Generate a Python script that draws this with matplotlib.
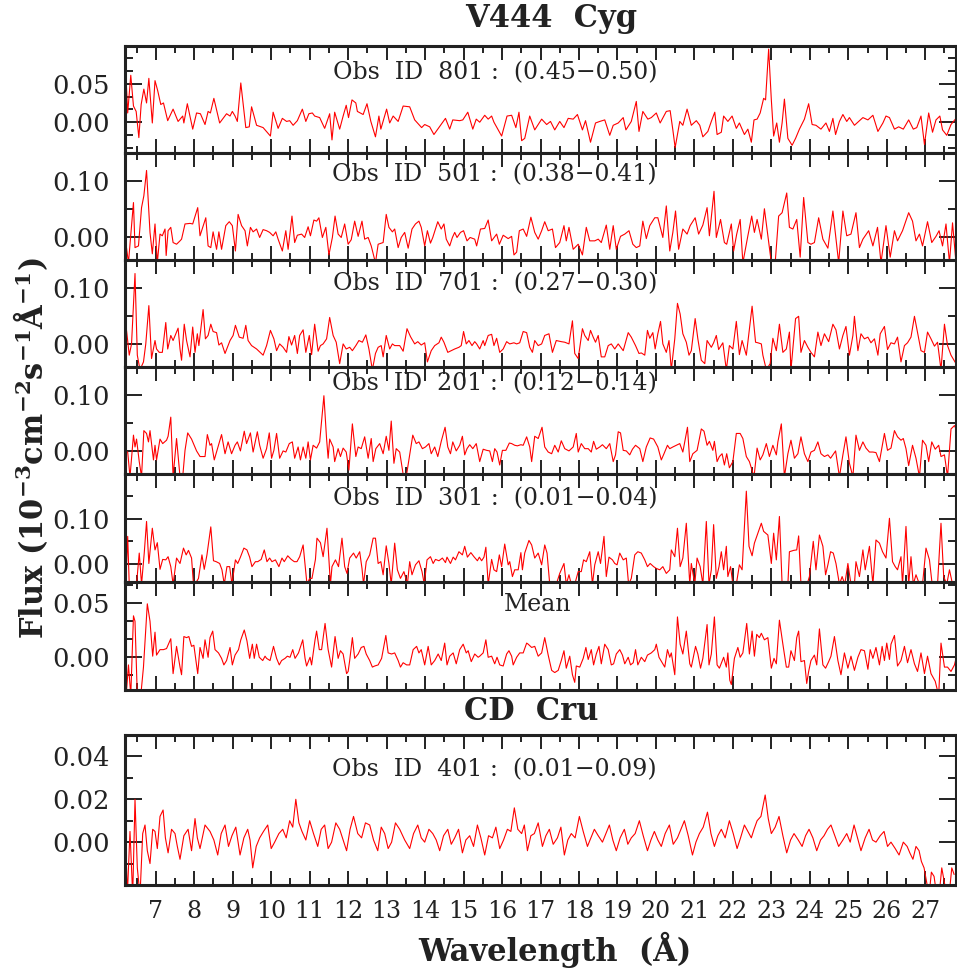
import matplotlib
matplotlib.use("Agg")
import matplotlib.pyplot as plt
from matplotlib.ticker import MultipleLocator, FixedLocator

plt.rcParams['font.family'] = ['DejaVu Serif']
plt.rcParams['mathtext.fontset'] = 'dejavuserif'
plt.rcParams['mathtext.default'] = 'bf'

# (wavelength, flux)
obs801 = [(6.20, 0.087), (6.27, 0.012), (6.35, 0.061), (6.42, 0.021), (6.49, 0.014), (6.56, -0.020),
          (6.62, 0.023), (6.69, 0.043), (6.76, 0.025), (6.82, 0.057), (6.91, -0.001), (6.98, 0.054),
          (7.05, 0.041), (7.13, 0.023), (7.20, 0.025), (7.31, 0.002), (7.45, 0.017), (7.58, 0.001),
          (7.70, 0.008), (7.73, -0.001), (7.82, 0.024), (7.96, -0.009), (8.06, 0.012), (8.16, 0.011),
          (8.28, -0.003), (8.36, 0.014), (8.42, 0.012), (8.51, 0.031), (8.66, -0.001), (8.84, 0.011),
          (8.93, 0.008), (8.99, 0.014), (9.06, 0.008), (9.12, 0.001), (9.21, 0.051), (9.34, -0.007),
          (9.43, -0.006), (9.49, 0.020), (9.62, -0.004), (9.79, -0.007), (9.98, -0.018), (10.05, 0.013),
          (10.18, -0.008), (10.29, 0.005), (10.40, 0.001), (10.48, 0.002), (10.57, -0.004), (10.68, 0.002),
          (10.81, 0.017), (10.90, 0.001), (10.98, 0.011), (11.07, 0.012), (11.13, 0.008), (11.26, 0.006),
          (11.39, -0.008), (11.52, 0.011), (11.58, -0.023), (11.65, 0.013), (11.78, -0.009), (11.87, 0.008),
          (11.95, 0.022), (12.01, 0.006), (12.10, 0.029), (12.20, 0.025), (12.24, 0.014), (12.39, 0.010),
          (12.49, 0.024), (12.59, 0.001), (12.71, -0.019), (12.80, 0.008), (12.85, -0.009), (13.00, 0.017),
          (13.08, -0.001), (13.17, 0.008), (13.30, 0.001), (13.43, 0.021), (13.60, 0.020), (13.73, 0.003),
          (13.91, -0.007), (13.99, -0.003), (14.12, -0.006), (14.23, -0.016), (14.36, -0.007), (14.53, 0.005),
          (14.64, -0.009), (14.72, 0.003), (14.90, 0.002), (14.98, 0.003), (15.11, 0.013), (15.24, -0.009),
          (15.33, 0.004), (15.42, 0.000), (15.55, 0.009), (15.64, 0.004), (15.73, 0.008), (15.79, 0.000),
          (15.99, -0.018), (16.13, 0.008), (16.25, 0.009), (16.36, -0.007), (16.44, 0.013), (16.51, -0.024),
          (16.59, -0.021), (16.72, 0.008), (16.85, -0.010), (17.03, 0.004), (17.16, -0.003), (17.26, 0.001),
          (17.37, -0.010), (17.50, 0.001), (17.61, -0.007), (17.72, 0.005), (17.85, 0.004), (17.96, 0.010),
          (18.09, -0.010), (18.17, 0.002), (18.30, -0.026), (18.43, -0.001), (18.54, 0.001), (18.67, 0.003),
          (18.80, -0.017), (18.89, -0.004), (19.02, -0.001), (19.15, 0.006), (19.22, -0.010), (19.36, 0.001),
          (19.49, 0.027), (19.56, -0.012), (19.66, 0.014), (19.79, 0.004), (19.88, 0.006), (20.01, 0.012),
          (20.11, -0.001), (20.27, 0.014), (20.37, 0.015), (20.44, -0.010), (20.50, -0.033), (20.62, 0.001),
          (20.70, -0.004), (20.81, 0.017), (20.92, -0.004), (21.05, 0.002), (21.14, -0.004), (21.22, -0.019),
          (21.35, -0.012), (21.44, 0.001), (21.53, 0.013), (21.59, -0.016), (21.70, -0.013), (21.76, 0.008),
          (21.87, 0.001), (21.98, 0.008), (22.09, -0.008), (22.17, -0.001), (22.30, -0.016), (22.39, -0.009),
          (22.48, -0.026), (22.55, 0.003), (22.63, 0.004), (22.71, 0.012), (22.80, 0.031), (22.85, 0.029),
          (22.93, 0.095), (23.00, 0.029), (23.06, -0.018), (23.14, -0.001), (23.21, -0.026), (23.28, -0.001),
          (23.34, 0.030), (23.43, -0.021), (23.54, -0.030), (23.63, -0.021), (23.73, -0.009), (23.86, 0.004),
          (23.97, 0.024), (24.06, -0.003), (24.16, -0.004), (24.29, -0.009), (24.42, -0.001), (24.51, -0.012),
          (24.60, 0.005), (24.67, -0.016), (24.77, 0.001), (24.86, 0.010), (24.96, 0.001), (25.03, 0.006),
          (25.16, -0.004), (25.27, 0.001), (25.38, 0.006), (25.51, 0.003), (25.64, 0.009), (25.77, -0.012),
          (25.90, -0.001), (25.98, 0.008), (26.07, 0.006), (26.20, -0.009), (26.31, -0.006), (26.43, -0.009),
          (26.57, 0.003), (26.69, -0.009), (26.78, -0.007), (26.89, 0.008), (26.98, -0.029), (27.09, 0.012),
          (27.19, -0.013), (27.28, 0.003), (27.38, 0.008), (27.45, -0.010), (27.56, -0.017), (27.67, -0.003),
          (27.80, 0.005)]

obs501 = [(6.20, 0.002), (6.29, -0.045), (6.42, 0.062), (6.46, -0.018), (6.55, -0.015), (6.63, 0.053),
          (6.69, 0.074), (6.76, 0.119), (6.85, 0.009), (6.91, -0.029), (6.98, 0.024), (7.04, -0.045),
          (7.11, 0.006), (7.17, 0.003), (7.24, 0.015), (7.27, -0.032), (7.32, 0.012), (7.39, 0.018),
          (7.45, -0.009), (7.54, -0.012), (7.63, -0.006), (7.67, -0.003), (7.76, 0.024), (7.89, 0.025),
          (7.96, 0.024), (8.09, 0.053), (8.15, 0.003), (8.30, 0.035), (8.36, -0.015), (8.43, -0.018),
          (8.49, 0.010), (8.58, -0.021), (8.64, 0.010), (8.71, -0.021), (8.82, 0.021), (8.91, 0.028),
          (8.99, 0.021), (9.07, -0.024), (9.14, 0.041), (9.23, 0.021), (9.32, 0.012), (9.38, -0.015),
          (9.46, 0.018), (9.53, 0.010), (9.62, 0.015), (9.70, 0.000), (9.79, 0.014), (9.88, 0.012),
          (9.96, 0.009), (10.05, 0.003), (10.12, 0.010), (10.18, -0.003), (10.29, -0.024), (10.38, 0.012),
          (10.44, -0.021), (10.54, 0.038), (10.61, -0.009), (10.68, 0.004), (10.79, 0.006), (10.87, 0.000),
          (10.96, 0.019), (11.02, 0.003), (11.11, 0.031), (11.18, 0.029), (11.24, 0.035), (11.33, 0.000),
          (11.42, 0.018), (11.50, -0.031), (11.59, 0.000), (11.66, 0.038), (11.74, 0.006), (11.82, 0.000),
          (11.91, 0.024), (12.00, -0.012), (12.08, -0.004), (12.17, 0.029), (12.26, 0.002), (12.36, 0.029),
          (12.43, -0.003), (12.52, 0.000), (12.60, -0.015), (12.71, -0.045), (12.78, -0.012), (12.91, -0.009),
          (12.99, 0.041), (13.06, 0.018), (13.15, 0.010), (13.21, 0.015), (13.30, -0.018), (13.38, 0.000),
          (13.47, 0.009), (13.56, -0.019), (13.66, 0.015), (13.75, 0.024), (13.84, 0.029), (13.90, 0.018),
          (13.99, -0.015), (14.06, 0.012), (14.14, -0.010), (14.20, 0.000), (14.33, 0.028), (14.42, 0.015),
          (14.49, 0.024), (14.55, -0.003), (14.64, -0.015), (14.71, 0.000), (14.77, 0.009), (14.83, 0.000),
          (14.92, 0.009), (15.00, 0.012), (15.09, -0.006), (15.17, 0.000), (15.29, -0.003), (15.34, -0.015),
          (15.44, 0.015), (15.55, 0.016), (15.64, 0.031), (15.73, -0.006), (15.86, 0.006), (15.93, -0.012),
          (16.03, 0.004), (16.16, -0.002), (16.25, 0.002), (16.31, -0.031), (16.38, -0.026), (16.45, 0.012),
          (16.55, 0.015), (16.64, 0.002), (16.75, 0.036), (16.85, 0.009), (16.94, -0.003), (17.03, 0.012),
          (17.11, 0.028), (17.20, 0.012), (17.31, 0.015), (17.39, -0.018), (17.50, -0.009), (17.61, 0.021),
          (17.67, -0.006), (17.74, 0.018), (17.85, -0.021), (17.98, -0.012), (18.09, -0.031), (18.19, 0.018),
          (18.28, -0.006), (18.41, -0.006), (18.50, -0.003), (18.58, -0.009), (18.71, 0.022), (18.80, -0.021),
          (18.89, 0.021), (18.97, -0.021), (19.08, 0.002), (19.19, 0.006), (19.30, 0.012), (19.40, -0.012),
          (19.49, -0.018), (19.58, -0.015), (19.66, 0.029), (19.75, -0.002), (19.84, 0.021), (19.97, 0.035),
          (20.05, 0.035), (20.18, 0.000), (20.27, 0.056), (20.36, -0.024), (20.44, 0.009), (20.51, 0.047),
          (20.59, -0.021), (20.70, 0.015), (20.81, 0.006), (20.89, 0.021), (21.02, 0.035), (21.11, 0.006),
          (21.22, 0.022), (21.33, 0.053), (21.39, 0.003), (21.51, 0.082), (21.57, 0.000), (21.68, 0.032),
          (21.78, -0.009), (21.84, -0.012), (21.96, 0.024), (22.02, -0.024), (22.10, 0.006), (22.19, 0.032),
          (22.26, -0.045), (22.39, 0.003), (22.49, 0.038), (22.56, 0.009), (22.63, 0.032), (22.74, -0.003),
          (22.82, 0.051), (22.91, 0.003), (23.00, -0.045), (23.10, -0.045), (23.19, 0.038), (23.28, 0.044),
          (23.40, 0.079), (23.47, 0.018), (23.56, 0.015), (23.66, 0.032), (23.75, -0.035), (23.84, 0.071),
          (23.95, -0.009), (24.03, -0.012), (24.12, -0.009), (24.23, 0.035), (24.34, -0.003), (24.47, -0.019),
          (24.60, 0.047), (24.75, -0.045), (24.86, 0.047), (24.96, 0.003), (25.07, 0.006), (25.20, 0.044),
          (25.29, -0.018), (25.38, -0.003), (25.53, 0.012), (25.64, -0.015), (25.76, 0.018), (25.85, -0.045),
          (25.98, 0.021), (26.09, -0.035), (26.20, 0.012), (26.28, -0.006), (26.41, 0.012), (26.57, 0.044),
          (26.67, 0.029), (26.76, -0.006), (26.85, 0.006), (26.93, -0.015), (27.06, 0.028), (27.17, -0.009),
          (27.28, 0.002), (27.36, 0.012), (27.45, -0.015), (27.54, 0.024), (27.63, -0.045), (27.71, 0.026),
          (27.80, -0.045)]

obs701 = [(6.20, -0.045), (6.24, 0.025), (6.31, -0.019), (6.37, 0.001), (6.46, 0.126), (6.52, -0.019),
          (6.59, -0.045), (6.68, -0.031), (6.74, 0.001), (6.82, 0.069), (6.89, -0.025), (6.98, 0.007),
          (7.02, -0.008), (7.09, -0.014), (7.17, -0.014), (7.26, 0.039), (7.31, -0.008), (7.39, 0.016),
          (7.45, 0.007), (7.52, 0.019), (7.58, 0.029), (7.63, -0.008), (7.67, -0.028), (7.74, 0.036),
          (7.80, 0.007), (7.89, -0.022), (7.96, 0.031), (8.02, -0.014), (8.08, 0.019), (8.12, -0.002),
          (8.23, 0.062), (8.29, 0.010), (8.36, 0.016), (8.43, 0.036), (8.49, 0.023), (8.58, 0.021),
          (8.64, -0.001), (8.71, 0.003), (8.80, -0.016), (8.93, 0.007), (9.01, 0.016), (9.07, 0.034),
          (9.17, 0.013), (9.27, 0.011), (9.34, 0.034), (9.40, 0.007), (9.49, -0.002), (9.62, -0.008),
          (9.79, -0.019), (9.88, -0.002), (9.98, 0.025), (10.07, 0.010), (10.14, -0.011), (10.22, 0.001),
          (10.31, -0.005), (10.40, -0.014), (10.46, 0.014), (10.53, -0.001), (10.61, 0.016), (10.68, -0.016),
          (10.74, 0.016), (10.83, 0.026), (10.90, -0.014), (10.99, 0.016), (11.05, -0.018), (11.13, 0.036),
          (11.22, -0.012), (11.28, -0.002), (11.35, 0.001), (11.44, 0.010), (11.52, 0.048), (11.61, 0.016),
          (11.69, 0.004), (11.78, -0.034), (11.87, 0.001), (11.95, -0.008), (12.04, -0.005), (12.11, -0.011),
          (12.20, -0.002), (12.28, 0.007), (12.37, 0.004), (12.46, 0.017), (12.54, -0.008), (12.63, -0.045),
          (12.71, -0.016), (12.78, -0.005), (12.86, -0.002), (12.91, -0.022), (12.99, 0.016), (13.08, -0.008),
          (13.15, 0.001), (13.21, -0.002), (13.34, -0.002), (13.43, -0.012), (13.53, 0.028), (13.62, 0.014),
          (13.73, 0.001), (13.81, 0.005), (13.90, -0.001), (13.99, 0.003), (14.06, -0.031), (14.16, -0.011),
          (14.25, -0.002), (14.36, 0.003), (14.42, 0.013), (14.49, 0.004), (14.59, -0.014), (14.68, -0.011),
          (14.77, -0.008), (14.88, -0.005), (14.94, -0.002), (15.00, 0.023), (15.07, 0.001), (15.14, 0.007),
          (15.22, -0.002), (15.29, 0.005), (15.34, 0.001), (15.42, -0.008), (15.51, 0.007), (15.55, -0.002),
          (15.64, 0.016), (15.73, 0.018), (15.79, -0.002), (15.86, 0.011), (15.94, -0.014), (16.03, -0.008),
          (16.12, 0.005), (16.20, 0.001), (16.31, 0.003), (16.38, 0.001), (16.46, 0.003), (16.55, 0.023),
          (16.64, 0.021), (16.72, -0.005), (16.79, -0.014), (16.85, 0.007), (16.94, -0.002), (17.03, 0.001),
          (17.11, 0.016), (17.22, 0.019), (17.31, -0.014), (17.41, 0.007), (17.54, 0.005), (17.63, 0.004),
          (17.74, 0.001), (17.83, 0.042), (17.89, -0.016), (17.98, -0.025), (18.09, 0.028), (18.15, 0.016),
          (18.24, 0.007), (18.30, 0.025), (18.37, 0.013), (18.43, 0.004), (18.50, 0.016), (18.58, -0.022),
          (18.67, -0.022), (18.76, -0.002), (18.84, 0.001), (18.93, -0.008), (19.02, 0.001), (19.15, -0.011),
          (19.28, 0.021), (19.36, 0.013), (19.47, -0.002), (19.56, -0.016), (19.62, -0.015), (19.71, -0.019),
          (19.78, 0.025), (19.84, 0.011), (19.92, 0.021), (19.98, -0.008), (20.05, 0.019), (20.12, 0.041),
          (20.18, 0.001), (20.27, -0.014), (20.34, 0.007), (20.40, -0.045), (20.49, 0.010), (20.56, 0.073),
          (20.63, 0.054), (20.70, 0.019), (20.79, 0.004), (20.86, -0.019), (20.92, -0.011), (21.02, 0.046),
          (21.09, 0.010), (21.18, -0.028), (21.27, -0.034), (21.33, 0.007), (21.44, -0.005), (21.50, 0.003),
          (21.57, 0.016), (21.63, -0.009), (21.74, 0.003), (21.83, -0.045), (21.91, -0.002), (22.00, -0.008),
          (22.09, 0.041), (22.17, -0.018), (22.24, 0.007), (22.35, -0.019), (22.42, 0.021), (22.50, 0.068),
          (22.59, 0.004), (22.65, 0.003), (22.74, 0.001), (22.78, -0.019), (22.87, -0.045), (22.97, -0.034),
          (23.04, 0.011), (23.13, -0.011), (23.21, 0.036), (23.30, -0.014), (23.39, -0.008), (23.47, 0.022),
          (23.51, -0.045), (23.63, 0.046), (23.71, 0.050), (23.77, -0.014), (23.86, 0.007), (23.95, -0.005),
          (24.03, -0.014), (24.12, -0.022), (24.21, 0.022), (24.29, -0.002), (24.38, 0.019), (24.49, 0.005),
          (24.60, 0.036), (24.68, 0.026), (24.77, -0.008), (24.86, 0.016), (24.94, 0.032), (25.03, -0.019),
          (25.12, 0.016), (25.16, 0.050), (25.25, -0.011), (25.33, 0.019), (25.42, 0.010), (25.51, 0.013),
          (25.59, 0.003), (25.68, 0.010), (25.77, -0.019), (25.83, 0.019), (25.94, 0.032), (26.02, -0.009),
          (26.11, 0.003), (26.20, 0.001), (26.28, 0.013), (26.37, -0.031), (26.46, -0.002), (26.54, 0.003),
          (26.63, 0.013), (26.72, 0.050), (26.80, 0.021), (26.89, -0.011), (26.98, -0.014), (27.06, 0.022),
          (27.15, 0.010), (27.24, -0.003), (27.32, 0.004), (27.41, -0.045), (27.50, 0.036), (27.58, -0.002),
          (27.67, -0.019), (27.80, -0.034)]

obs201 = [(6.20, 0.000), (6.27, -0.001), (6.33, -0.045), (6.42, 0.029), (6.46, 0.008), (6.50, 0.022),
          (6.57, -0.018), (6.63, -0.045), (6.69, 0.037), (6.76, 0.032), (6.81, 0.017), (6.85, 0.037),
          (6.94, -0.015), (6.98, 0.011), (7.02, -0.015), (7.11, 0.022), (7.18, 0.014), (7.28, 0.020),
          (7.32, 0.027), (7.39, 0.061), (7.45, -0.045), (7.54, 0.023), (7.63, -0.045), (7.70, -0.045),
          (7.76, 0.002), (7.83, 0.033), (7.93, 0.022), (8.06, 0.001), (8.15, -0.009), (8.28, -0.009),
          (8.34, 0.030), (8.41, 0.011), (8.45, 0.014), (8.52, -0.015), (8.58, -0.001), (8.62, 0.008),
          (8.71, 0.030), (8.80, -0.004), (8.88, 0.017), (8.97, -0.004), (9.06, 0.011), (9.12, 0.017),
          (9.20, 0.001), (9.30, 0.036), (9.36, 0.014), (9.46, 0.033), (9.53, -0.001), (9.64, 0.035),
          (9.70, 0.011), (9.79, -0.012), (9.88, 0.005), (9.95, 0.033), (10.01, -0.012), (10.07, 0.002),
          (10.14, 0.032), (10.22, -0.012), (10.31, 0.001), (10.38, -0.001), (10.47, 0.014), (10.55, 0.017),
          (10.61, -0.012), (10.70, 0.008), (10.76, -0.015), (10.83, 0.008), (10.90, -0.012), (10.96, 0.017),
          (11.02, -0.015), (11.09, 0.011), (11.18, 0.006), (11.26, 0.017), (11.37, 0.099), (11.44, 0.022),
          (11.48, -0.012), (11.52, 0.022), (11.61, 0.008), (11.65, -0.018), (11.74, 0.005), (11.80, -0.009),
          (11.87, 0.006), (11.95, -0.001), (12.02, -0.033), (12.11, 0.049), (12.20, -0.009), (12.26, 0.008),
          (12.34, 0.005), (12.43, 0.026), (12.52, -0.012), (12.60, 0.023), (12.65, -0.018), (12.72, 0.005),
          (12.82, 0.014), (12.91, -0.004), (12.99, 0.027), (13.06, 0.002), (13.12, 0.054), (13.19, -0.021),
          (13.25, 0.005), (13.34, -0.001), (13.44, -0.045), (13.51, -0.045), (13.68, 0.029), (13.77, 0.014),
          (13.84, 0.017), (13.93, 0.005), (14.01, 0.008), (14.10, 0.014), (14.16, -0.004), (14.25, 0.008),
          (14.33, -0.009), (14.42, 0.018), (14.52, 0.043), (14.59, 0.008), (14.66, -0.004), (14.72, 0.017),
          (14.81, 0.001), (14.90, 0.011), (14.97, 0.027), (15.03, -0.006), (15.09, 0.005), (15.16, 0.012),
          (15.24, 0.005), (15.33, 0.014), (15.42, -0.018), (15.51, 0.004), (15.60, 0.002), (15.68, 0.001),
          (15.75, -0.018), (15.81, 0.005), (15.87, -0.001), (15.94, -0.024), (16.01, 0.002), (16.10, 0.002),
          (16.19, 0.015), (16.25, 0.014), (16.33, 0.011), (16.40, 0.010), (16.49, 0.012), (16.55, 0.011),
          (16.64, 0.026), (16.72, 0.008), (16.77, -0.018), (16.85, 0.027), (16.94, 0.023), (17.04, 0.043),
          (17.11, 0.008), (17.20, -0.001), (17.29, -0.004), (17.37, 0.011), (17.46, -0.001), (17.54, 0.019),
          (17.63, 0.005), (17.74, 0.001), (17.85, 0.008), (17.93, 0.032), (17.98, -0.001), (18.06, 0.014),
          (18.15, 0.005), (18.24, 0.005), (18.32, -0.001), (18.38, 0.018), (18.45, 0.004), (18.54, 0.008),
          (18.61, 0.012), (18.71, 0.005), (18.80, 0.014), (18.89, -0.018), (18.95, -0.006), (19.02, 0.035),
          (19.08, 0.033), (19.15, 0.002), (19.23, 0.001), (19.32, -0.006), (19.39, 0.004), (19.47, 0.011),
          (19.58, 0.005), (19.66, -0.018), (19.75, 0.008), (19.85, 0.024), (19.94, 0.022), (20.05, 0.008),
          (20.14, -0.015), (20.21, -0.004), (20.30, 0.011), (20.36, 0.005), (20.44, 0.008), (20.53, 0.011),
          (20.62, 0.014), (20.70, -0.001), (20.82, 0.043), (20.88, -0.018), (20.96, -0.004), (21.07, 0.002),
          (21.18, 0.040), (21.25, 0.036), (21.33, 0.011), (21.39, 0.018), (21.48, 0.002), (21.52, 0.018),
          (21.59, -0.018), (21.65, -0.009), (21.72, -0.004), (21.78, -0.024), (21.84, -0.004), (21.91, -0.029),
          (22.00, -0.018), (22.09, 0.032), (22.19, 0.032), (22.26, 0.023), (22.35, -0.009), (22.43, -0.018),
          (22.55, -0.045), (22.63, 0.006), (22.71, -0.015), (22.78, -0.006), (22.87, 0.014), (22.95, -0.009),
          (23.04, 0.011), (23.13, -0.006), (23.17, 0.017), (23.26, 0.049), (23.34, -0.045), (23.43, -0.004),
          (23.51, 0.020), (23.60, -0.012), (23.69, -0.004), (23.77, 0.026), (23.86, -0.004), (23.95, -0.018),
          (24.03, -0.001), (24.12, 0.002), (24.21, 0.017), (24.29, -0.004), (24.38, -0.009), (24.47, -0.006),
          (24.54, -0.012), (24.60, -0.006), (24.67, 0.001), (24.77, -0.045), (24.86, -0.006), (24.94, 0.026),
          (25.03, -0.021), (25.12, -0.045), (25.20, 0.029), (25.29, 0.002), (25.38, 0.017), (25.46, 0.006),
          (25.55, -0.001), (25.64, -0.001), (25.72, -0.002), (25.81, -0.018), (25.94, 0.032), (26.02, 0.002),
          (26.11, 0.006), (26.20, 0.037), (26.28, 0.026), (26.37, 0.020), (26.43, 0.023), (26.50, 0.005),
          (26.57, -0.025), (26.67, 0.011), (26.76, -0.012), (26.85, -0.045), (26.93, 0.020), (27.02, 0.011),
          (27.09, -0.018), (27.17, 0.017), (27.26, 0.004), (27.35, 0.011), (27.41, -0.009), (27.50, -0.006),
          (27.58, -0.045), (27.67, 0.040), (27.76, 0.046), (27.80, 0.040)]

obs301 = [(6.22, -0.045), (6.27, 0.061), (6.31, -0.045), (6.40, -0.045), (6.50, -0.045), (6.57, 0.024),
          (6.63, -0.045), (6.70, 0.024), (6.76, 0.094), (6.82, 0.001), (6.91, 0.079), (6.98, 0.031),
          (7.04, 0.047), (7.11, -0.012), (7.18, 0.010), (7.26, 0.009), (7.32, 0.016), (7.39, -0.006),
          (7.45, -0.045), (7.54, 0.013), (7.63, 0.001), (7.72, 0.035), (7.79, 0.020), (7.85, 0.030),
          (7.93, 0.013), (7.98, -0.045), (8.02, -0.045), (8.11, -0.032), (8.20, 0.020), (8.26, -0.012),
          (8.33, 0.020), (8.43, 0.082), (8.50, 0.007), (8.57, 0.005), (8.66, 0.001), (8.72, -0.013),
          (8.78, -0.045), (8.85, -0.006), (8.92, -0.006), (8.98, -0.045), (9.07, 0.009), (9.13, 0.001),
          (9.20, 0.015), (9.29, 0.035), (9.37, 0.031), (9.44, 0.015), (9.50, -0.006), (9.59, 0.005),
          (9.65, 0.005), (9.74, 0.010), (9.82, 0.031), (9.89, 0.005), (9.96, 0.013), (10.02, 0.005),
          (10.11, 0.009), (10.20, -0.006), (10.28, 0.013), (10.34, 0.005), (10.43, 0.018), (10.52, 0.010),
          (10.60, 0.005), (10.67, 0.005), (10.74, 0.016), (10.83, 0.042), (10.93, -0.045), (11.00, -0.032),
          (11.06, -0.032), (11.15, 0.010), (11.19, 0.057), (11.28, 0.047), (11.35, 0.016), (11.45, 0.079),
          (11.54, -0.045), (11.58, -0.006), (11.67, 0.009), (11.75, -0.006), (11.84, 0.057), (11.91, -0.006),
          (11.97, -0.021), (12.04, 0.013), (12.14, 0.024), (12.21, 0.013), (12.30, 0.027), (12.36, -0.010),
          (12.40, -0.045), (12.47, 0.005), (12.56, 0.020), (12.65, 0.057), (12.71, 0.057), (12.78, 0.001),
          (12.85, 0.005), (12.91, -0.024), (12.99, 0.040), (13.06, 0.001), (13.12, -0.045), (13.21, 0.046),
          (13.28, -0.013), (13.36, -0.032), (13.45, -0.017), (13.54, -0.045), (13.60, 0.005), (13.66, -0.024),
          (13.75, -0.002), (13.84, 0.007), (13.92, -0.017), (13.98, -0.045), (14.05, 0.009), (14.14, 0.016),
          (14.21, 0.001), (14.27, 0.010), (14.36, 0.007), (14.45, 0.013), (14.53, 0.003), (14.57, 0.015),
          (14.66, 0.001), (14.73, 0.015), (14.79, 0.009), (14.88, 0.027), (14.97, 0.020), (15.03, 0.039),
          (15.10, 0.015), (15.19, 0.025), (15.27, 0.016), (15.36, 0.007), (15.41, 0.015), (15.47, 0.007),
          (15.53, 0.015), (15.58, 0.037), (15.64, -0.045), (15.73, 0.010), (15.79, -0.013), (15.86, -0.017),
          (15.93, 0.020), (15.99, -0.006), (16.07, 0.044), (16.16, -0.002), (16.20, 0.005), (16.27, -0.028),
          (16.33, -0.013), (16.42, -0.013), (16.49, 0.025), (16.53, -0.013), (16.59, 0.024), (16.70, 0.052),
          (16.77, 0.042), (16.85, 0.013), (16.94, 0.024), (17.03, -0.002), (17.11, 0.042), (17.17, 0.024),
          (17.24, -0.045), (17.33, -0.045), (17.41, -0.045), (17.50, -0.021), (17.61, 0.001), (17.67, -0.045),
          (17.74, -0.024), (17.80, -0.045), (17.89, -0.045), (17.98, -0.017), (18.06, -0.017), (18.12, 0.009),
          (18.19, 0.005), (18.28, 0.027), (18.35, -0.045), (18.41, -0.002), (18.50, 0.027), (18.56, 0.001),
          (18.65, 0.061), (18.71, -0.028), (18.78, 0.015), (18.87, 0.009), (18.93, 0.001), (18.99, -0.002),
          (19.06, 0.024), (19.15, 0.009), (19.23, 0.013), (19.29, -0.045), (19.36, -0.032), (19.45, 0.020),
          (19.53, 0.027), (19.62, 0.024), (19.71, 0.009), (19.78, -0.006), (19.85, 0.001), (19.94, -0.006),
          (20.01, -0.010), (20.10, -0.013), (20.18, -0.006), (20.27, -0.021), (20.36, -0.013), (20.40, 0.031),
          (20.49, 0.016), (20.56, 0.079), (20.63, -0.006), (20.70, 0.013), (20.79, 0.090), (20.88, -0.045),
          (20.92, 0.001), (21.01, -0.045), (21.07, 0.013), (21.15, -0.006), (21.22, -0.045), (21.31, 0.094),
          (21.38, -0.045), (21.44, -0.013), (21.50, 0.087), (21.57, -0.032), (21.64, -0.006), (21.70, 0.027),
          (21.76, -0.013), (21.83, 0.039), (21.87, -0.028), (21.94, -0.006), (22.00, -0.045), (22.09, -0.045),
          (22.17, -0.002), (22.24, -0.013), (22.35, 0.161), (22.42, 0.039), (22.50, 0.018), (22.56, 0.046),
          (22.65, 0.068), (22.74, 0.090), (22.80, 0.072), (22.91, 0.064), (23.00, 0.001), (23.06, 0.068),
          (23.13, 0.009), (23.21, 0.105), (23.28, -0.045), (23.37, -0.045), (23.43, -0.045), (23.47, 0.027),
          (23.58, 0.030), (23.66, 0.031), (23.71, 0.062), (23.77, -0.045), (23.86, -0.045), (23.93, -0.045),
          (23.99, -0.028), (24.09, 0.050), (24.16, -0.013), (24.25, 0.064), (24.34, 0.039), (24.41, -0.024),
          (24.47, -0.002), (24.54, 0.027), (24.61, 0.024), (24.68, 0.001), (24.77, -0.045), (24.84, -0.028),
          (24.91, -0.045), (24.99, 0.001), (25.07, -0.045), (25.16, -0.045), (25.20, 0.005), (25.29, -0.028),
          (25.38, 0.031), (25.44, -0.013), (25.55, 0.039), (25.64, -0.045), (25.72, 0.053), (25.81, 0.046),
          (25.89, 0.027), (25.98, 0.013), (26.07, 0.101), (26.15, 0.005), (26.22, -0.006), (26.28, -0.013),
          (26.37, 0.016), (26.41, -0.045), (26.50, 0.083), (26.57, -0.045), (26.63, 0.016), (26.69, -0.045),
          (26.76, -0.024), (26.85, -0.045), (26.93, -0.045), (27.02, 0.035), (27.11, 0.009), (27.18, -0.045),
          (27.24, -0.045), (27.32, -0.045), (27.41, 0.090), (27.48, -0.028), (27.56, -0.045), (27.63, -0.013),
          (27.71, -0.045), (27.80, -0.045)]

mean_v444 = [(6.20, -0.035), (6.23, -0.035), (6.29, -0.007), (6.35, -0.035), (6.42, 0.038), (6.46, 0.033),
             (6.52, -0.035), (6.61, -0.035), (6.68, -0.009), (6.78, 0.049), (6.85, 0.033), (6.92, 0.001),
             (6.98, 0.023), (7.02, 0.002), (7.11, 0.007), (7.20, 0.007), (7.28, 0.008), (7.39, 0.017),
             (7.45, -0.015), (7.54, 0.010), (7.63, -0.009), (7.67, -0.016), (7.73, 0.019), (7.80, 0.018),
             (7.86, 0.019), (7.93, 0.010), (7.99, 0.011), (8.09, -0.015), (8.15, 0.009), (8.23, -0.001),
             (8.28, 0.016), (8.36, 0.000), (8.41, 0.018), (8.48, 0.024), (8.54, 0.007), (8.63, 0.004),
             (8.71, -0.001), (8.77, -0.007), (8.84, -0.003), (8.93, 0.009), (8.99, -0.007), (9.06, 0.002),
             (9.15, 0.007), (9.21, 0.016), (9.30, 0.025), (9.37, 0.015), (9.44, -0.001), (9.51, 0.012),
             (9.56, -0.001), (9.62, 0.012), (9.69, 0.000), (9.78, -0.003), (9.84, 0.001), (9.88, -0.001),
             (9.97, -0.003), (10.06, 0.010), (10.14, -0.001), (10.21, -0.007), (10.27, -0.003), (10.36, -0.001),
             (10.42, 0.001), (10.49, 0.000), (10.56, 0.007), (10.62, -0.001), (10.71, 0.004), (10.82, 0.016),
             (10.88, -0.001), (10.92, -0.008), (11.01, 0.000), (11.05, -0.007), (11.14, 0.016), (11.18, 0.024),
             (11.25, 0.007), (11.31, 0.007), (11.40, 0.031), (11.48, 0.007), (11.57, -0.009), (11.66, 0.019),
             (11.74, -0.001), (11.80, 0.006), (11.87, 0.003), (11.96, -0.015), (12.00, -0.013), (12.04, -0.003),
             (12.11, 0.018), (12.17, -0.001), (12.26, 0.003), (12.34, 0.009), (12.41, 0.010), (12.47, 0.003),
             (12.56, -0.003), (12.63, -0.009), (12.69, -0.008), (12.78, -0.007), (12.87, -0.001), (12.98, 0.020),
             (13.04, 0.004), (13.13, 0.003), (13.21, 0.004), (13.30, -0.003), (13.36, -0.009), (13.43, -0.005),
             (13.52, -0.007), (13.60, -0.007), (13.69, 0.007), (13.78, 0.010), (13.84, 0.004), (13.90, 0.007),
             (13.99, -0.007), (14.08, 0.010), (14.16, -0.007), (14.25, -0.003), (14.34, 0.003), (14.42, -0.003),
             (14.51, 0.013), (14.57, -0.007), (14.64, 0.001), (14.73, 0.004), (14.81, -0.006), (14.90, 0.007),
             (14.99, 0.012), (15.07, 0.004), (15.12, 0.006), (15.20, -0.004), (15.29, 0.003), (15.38, 0.000),
             (15.42, 0.001), (15.51, 0.004), (15.58, 0.016), (15.64, 0.000), (15.73, 0.001), (15.81, -0.006),
             (15.87, 0.000), (15.94, -0.007), (16.03, -0.008), (16.12, 0.003), (16.18, 0.006), (16.25, 0.001),
             (16.29, -0.007), (16.38, 0.000), (16.46, 0.004), (16.55, 0.004), (16.64, 0.013), (16.68, 0.012),
             (16.77, 0.009), (16.85, 0.010), (16.94, 0.001), (17.03, 0.004), (17.11, 0.018), (17.20, 0.002),
             (17.29, -0.012), (17.37, -0.014), (17.46, -0.012), (17.54, -0.003), (17.61, 0.006), (17.67, -0.010),
             (17.76, 0.001), (17.83, -0.016), (17.89, -0.023), (17.93, -0.008), (18.02, -0.009), (18.11, -0.001),
             (18.18, 0.009), (18.24, -0.002), (18.32, 0.007), (18.38, -0.007), (18.45, 0.003), (18.52, 0.010),
             (18.58, -0.006), (18.67, 0.012), (18.76, 0.007), (18.84, -0.007), (18.90, -0.006), (18.97, 0.003),
             (19.06, 0.007), (19.13, 0.002), (19.19, -0.006), (19.28, 0.000), (19.34, -0.007), (19.41, -0.005),
             (19.47, 0.007), (19.53, -0.007), (19.62, 0.000), (19.71, -0.004), (19.78, 0.002), (19.88, 0.004),
             (19.97, 0.007), (20.01, 0.012), (20.08, 0.000), (20.18, -0.006), (20.23, -0.009), (20.30, 0.007),
             (20.36, 0.000), (20.40, 0.004), (20.49, -0.016), (20.56, 0.037), (20.63, 0.012), (20.70, 0.003),
             (20.79, 0.024), (20.88, -0.006), (20.92, -0.009), (21.03, 0.010), (21.09, 0.003), (21.16, -0.010),
             (21.22, -0.001), (21.33, 0.030), (21.38, -0.007), (21.44, 0.003), (21.52, 0.037), (21.59, -0.007),
             (21.65, -0.010), (21.76, 0.000), (21.83, -0.009), (21.87, 0.004), (21.92, -0.021), (21.96, -0.025),
             (22.04, -0.001), (22.13, 0.009), (22.19, 0.000), (22.26, 0.004), (22.36, 0.031), (22.43, 0.003),
             (22.50, 0.024), (22.56, 0.001), (22.62, 0.021), (22.69, 0.018), (22.74, 0.022), (22.82, 0.016),
             (22.91, 0.018), (23.00, -0.010), (23.07, -0.001), (23.13, -0.006), (23.21, 0.034), (23.30, 0.012),
             (23.39, -0.009), (23.45, -0.009), (23.51, 0.006), (23.60, -0.003), (23.66, 0.018), (23.71, 0.024),
             (23.77, -0.004), (23.86, -0.003), (23.92, -0.024), (23.97, -0.013), (24.03, -0.003), (24.12, 0.002),
             (24.18, -0.007), (24.25, 0.026), (24.34, -0.007), (24.41, -0.010), (24.49, -0.004), (24.55, 0.001),
             (24.64, 0.019), (24.73, -0.003), (24.81, -0.016), (24.90, 0.004), (24.99, -0.010), (25.07, 0.001),
             (25.16, -0.012), (25.25, 0.000), (25.33, 0.007), (25.42, 0.006), (25.51, -0.011), (25.57, 0.007),
             (25.64, -0.001), (25.72, 0.009), (25.81, -0.007), (25.88, 0.010), (25.94, -0.003), (26.00, 0.013),
             (26.07, -0.002), (26.11, 0.012), (26.20, 0.020), (26.28, -0.008), (26.37, -0.003), (26.46, 0.010),
             (26.54, -0.005), (26.63, 0.007), (26.72, -0.006), (26.80, -0.013), (26.89, 0.004), (26.98, -0.015),
             (27.06, 0.001), (27.15, -0.015), (27.26, -0.022), (27.35, -0.035), (27.41, 0.013), (27.50, -0.009),
             (27.58, -0.009), (27.67, -0.013), (27.76, -0.007), (27.80, -0.001)]

obs401 = [(6.20, 0.012), (6.26, -0.025), (6.33, 0.005), (6.40, -0.025), (6.46, 0.020), (6.52, -0.012),
          (6.59, -0.025), (6.66, 0.004), (6.72, 0.008), (6.78, -0.004), (6.85, -0.010), (6.92, 0.006),
          (6.98, 0.005), (7.04, -0.003), (7.11, 0.012), (7.19, 0.015), (7.25, 0.002), (7.32, -0.005),
          (7.41, 0.006), (7.50, 0.004), (7.56, -0.002), (7.63, -0.008), (7.73, 0.003), (7.84, 0.006),
          (7.93, -0.004), (8.02, 0.011), (8.08, 0.002), (8.15, -0.003), (8.28, 0.008), (8.41, 0.005),
          (8.51, 0.001), (8.61, -0.006), (8.70, 0.004), (8.80, 0.008), (8.89, -0.002), (8.98, 0.003),
          (9.08, 0.007), (9.19, -0.006), (9.29, 0.002), (9.39, 0.006), (9.45, 0.001), (9.52, -0.012),
          (9.61, -0.002), (9.70, 0.002), (9.80, 0.005), (9.91, 0.008), (10.00, -0.003), (10.09, 0.000),
          (10.20, 0.004), (10.30, 0.006), (10.39, 0.002), (10.48, 0.010), (10.56, 0.007), (10.64, 0.020),
          (10.72, 0.009), (10.80, 0.005), (10.90, 0.001), (11.00, 0.010), (11.10, 0.004), (11.21, -0.002),
          (11.30, 0.006), (11.39, 0.008), (11.48, -0.003), (11.57, 0.000), (11.68, 0.009), (11.78, 0.006),
          (11.87, 0.001), (11.96, -0.004), (12.05, 0.006), (12.14, 0.012), (12.25, 0.004), (12.35, 0.002),
          (12.45, 0.009), (12.56, 0.008), (12.66, 0.001), (12.77, -0.004), (12.86, 0.007), (12.95, 0.004),
          (13.04, -0.003), (13.13, 0.000), (13.23, 0.009), (13.34, 0.006), (13.47, 0.001), (13.60, -0.003),
          (13.70, 0.004), (13.81, 0.008), (13.90, 0.002), (13.99, 0.000), (14.10, 0.006), (14.20, 0.004),
          (14.29, 0.001), (14.38, -0.004), (14.48, 0.003), (14.59, 0.006), (14.68, -0.001), (14.77, 0.002),
          (14.87, 0.006), (14.97, -0.005), (15.06, 0.001), (15.16, 0.003), (15.26, -0.002), (15.36, 0.008),
          (15.45, 0.002), (15.55, -0.006), (15.65, 0.003), (15.75, 0.002), (15.84, 0.007), (15.94, -0.003),
          (16.04, 0.001), (16.14, 0.006), (16.23, 0.005), (16.32, 0.016), (16.41, 0.006), (16.51, 0.004),
          (16.58, 0.008), (16.66, -0.004), (16.75, 0.003), (16.84, 0.004), (16.94, 0.009), (17.05, -0.002),
          (17.14, 0.003), (17.23, 0.006), (17.33, -0.001), (17.44, 0.002), (17.53, 0.007), (17.62, -0.006),
          (17.71, 0.001), (17.80, 0.004), (17.90, 0.002), (18.01, 0.012), (18.11, 0.005), (18.22, -0.002),
          (18.31, 0.002), (18.40, 0.006), (18.50, 0.003), (18.61, 0.000), (18.70, 0.004), (18.79, 0.008),
          (18.88, 0.001), (18.97, -0.004), (19.07, 0.002), (19.18, 0.006), (19.27, -0.001), (19.36, 0.002),
          (19.46, 0.004), (19.57, 0.010), (19.67, 0.003), (19.78, -0.004), (19.87, 0.001), (19.96, 0.005),
          (20.05, 0.001), (20.14, -0.002), (20.24, 0.004), (20.35, 0.008), (20.45, -0.001), (20.56, 0.002),
          (20.65, 0.006), (20.74, 0.010), (20.84, 0.003), (20.95, -0.006), (21.04, 0.000), (21.13, 0.004),
          (21.23, 0.007), (21.34, 0.014), (21.43, 0.004), (21.52, -0.002), (21.61, 0.003), (21.70, 0.006),
          (21.80, 0.002), (21.91, 0.010), (22.01, 0.004), (22.11, -0.003), (22.20, 0.002), (22.30, 0.008),
          (22.39, 0.005), (22.48, 0.002), (22.55, 0.006), (22.63, 0.010), (22.73, 0.012), (22.84, 0.022),
          (22.92, 0.011), (23.00, 0.004), (23.10, 0.007), (23.20, 0.012), (23.30, 0.003), (23.40, -0.005),
          (23.50, 0.001), (23.59, 0.004), (23.70, 0.001), (23.80, -0.002), (23.89, 0.003), (23.98, 0.006),
          (24.08, 0.002), (24.18, -0.004), (24.28, 0.001), (24.37, 0.003), (24.46, 0.006), (24.55, 0.008),
          (24.65, 0.003), (24.75, -0.002), (24.86, 0.001), (24.96, 0.004), (25.05, 0.000), (25.15, 0.008),
          (25.24, 0.002), (25.33, -0.004), (25.44, 0.002), (25.54, 0.006), (25.63, 0.001), (25.72, 0.000),
          (25.83, 0.003), (25.93, 0.005), (26.02, -0.002), (26.11, 0.000), (26.22, -0.003), (26.32, -0.006),
          (26.43, 0.000), (26.53, -0.002), (26.60, -0.005), (26.68, -0.008), (26.76, -0.002), (26.84, -0.004),
          (26.90, -0.009), (26.97, -0.012), (27.03, -0.018), (27.10, -0.025), (27.16, -0.014), (27.23, -0.016),
          (27.30, -0.025), (27.36, -0.025), (27.43, -0.012), (27.49, -0.018), (27.56, -0.025), (27.62, -0.025),
          (27.69, -0.012), (27.75, -0.015)]

panel_data = [obs801, obs501, obs701, obs201, obs301, mean_v444]
panel_text = ["Obs  ID  801 :  (0.45\u22120.50)", "Obs  ID  501 :  (0.38\u22120.41)",
              "Obs  ID  701 :  (0.27\u22120.30)", "Obs  ID  201 :  (0.12\u22120.14)",
              "Obs  ID  301 :  (0.01\u22120.04)", "Mean"]
panel_ylim = [(-0.04, 0.099), (-0.04, 0.15), (-0.04, 0.15), (-0.04, 0.15), (-0.04, 0.199), (-0.03, 0.069)]
panel_major = [[0.0, 0.05], [0.0, 0.10], [0.0, 0.10], [0.0, 0.10], [0.0, 0.10], [0.0, 0.05]]
panel_minor = [0.05 / 3, 0.05, 0.05, 0.05, 0.05, 0.05 / 3]
text_y = [0.75, 0.80, 0.78, 0.84, 0.77, 0.79]

INK = '#222222'


def style(ax, ylim, major, minor, xlabels):
    ax.set_xlim(6.2, 27.8)
    ax.set_ylim(*ylim)
    ax.xaxis.set_major_locator(MultipleLocator(1))
    ax.xaxis.set_minor_locator(MultipleLocator(0.5))
    ax.yaxis.set_major_locator(FixedLocator(major))
    ax.yaxis.set_minor_locator(MultipleLocator(minor))
    ax.yaxis.set_major_formatter(matplotlib.ticker.FormatStrFormatter('%.2f'))
    ax.tick_params(which='both', direction='in', top=True, right=True, width=1.4, colors=INK)
    ax.tick_params(axis='x', which='major', length=10)
    ax.tick_params(axis='x', which='minor', length=5)
    ax.tick_params(axis='y', which='major', length=12, pad=11, labelsize=18.5)
    ax.tick_params(axis='y', which='minor', length=6)
    ax.tick_params(axis='x', labelsize=17, pad=11, labelbottom=xlabels)
    for s in ax.spines.values():
        s.set_linewidth(2.2)
        s.set_color(INK)


fig = plt.figure(figsize=(9.57, 9.73), dpi=100)
W, H = 957.0, 973.0
x0, x1 = 125 / W, 831 / W
edges = [46, 153, 260, 367, 474, 582, 690]

for i in range(6):
    ax = fig.add_axes([x0, 1 - edges[i + 1] / H, x1, (edges[i + 1] - edges[i]) / H])
    ax.plot([p[0] for p in panel_data[i]], [p[1] for p in panel_data[i]], color='red', lw=0.8)
    style(ax, panel_ylim[i], panel_major[i], panel_minor[i], False)
    xt = 0.497 if i == 5 else 0.445
    ax.text(xt, text_y[i], panel_text[i], transform=ax.transAxes, ha='center', va='center',
            fontsize=17, color=INK)

axb = fig.add_axes([x0, 1 - 885 / H, x1, 150 / H])
axb.plot([p[0] for p in obs401], [p[1] for p in obs401], color='red', lw=0.8)
style(axb, (-0.02, 0.05), [0.0, 0.02, 0.04], 0.01, True)
axb.text(0.445, 0.767, "Obs  ID  401 :  (0.01\u22120.09)", transform=axb.transAxes,
         ha='center', va='center', fontsize=17, color=INK)

fig.text(551 / W, 1 - 19 / H, "V444  Cyg", ha='center', va='center', fontsize=22,
         fontweight='bold', color=INK)
fig.text(531 / W, 1 - 711 / H, "CD  Cru", ha='center', va='center', fontsize=22,
         fontweight='bold', color=INK)
fig.text(555 / W, 1 - 950 / H, "Wavelength  (\u00c5)", ha='center', va='center', fontsize=22,
         fontweight='bold', color=INK)
fig.text(31 / W, 1 - 448 / H, "Flux (10$^{-3}$cm$^{-2}$s$^{-1}$\u00c5$^{-1}$)",
         rotation=90, ha='center', va='center', fontsize=22, fontweight='bold', color=INK)

fig.savefig("out.png", dpi=100)
